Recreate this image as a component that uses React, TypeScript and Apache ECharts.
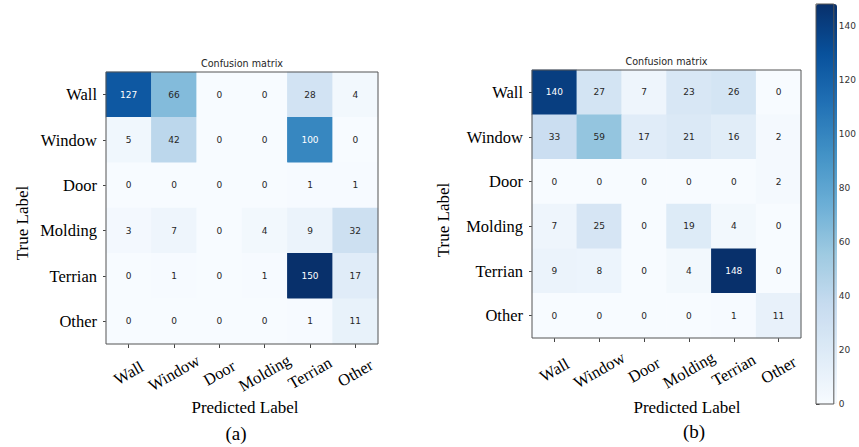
import React, { useEffect, useRef } from "react";
import * as echarts from "echarts";

const categories = ["Wall", "Window", "Door", "Molding", "Terrian", "Other"];

const matrixA = [
  [127, 66, 0, 0, 28, 4],
  [5, 42, 0, 0, 100, 0],
  [0, 0, 0, 0, 1, 1],
  [3, 7, 0, 4, 9, 32],
  [0, 1, 0, 1, 150, 17],
  [0, 0, 0, 0, 1, 11],
];

const matrixB = [
  [140, 27, 7, 23, 26, 0],
  [33, 59, 17, 21, 16, 2],
  [0, 0, 0, 0, 0, 2],
  [7, 25, 0, 19, 4, 0],
  [9, 8, 0, 4, 148, 0],
  [0, 0, 0, 0, 1, 11],
];

const colorbarMin = 0;
const colorbarMax = 148;
const colorbarStep = 20;

const blues = [
  "#f7fbff",
  "#deebf7",
  "#c6dbef",
  "#9ecae1",
  "#6baed6",
  "#4292c6",
  "#2171b5",
  "#08519c",
  "#08306b",
];

const SERIF = "Liberation Serif";
const SANS = "DejaVu Sans";

function buildData(m: number[][], max: number) {
  const out: any[] = [];
  m.forEach((row, i) =>
    row.forEach((v, j) => {
      out.push({
        value: [j, i, v],
        label: { color: v > max / 2 ? "#ffffff" : "#262626" },
      });
    })
  );
  return out;
}

function matrixMax(m: number[][]) {
  return Math.max(...m.map((r) => Math.max(...r)));
}

export default function App() {
  const ref = useRef<HTMLDivElement>(null);

  useEffect(() => {
    if (!ref.current) return;
    const chart = echarts.init(ref.current, undefined, { renderer: "svg" });
    const maxA = matrixMax(matrixA);
    const maxB = colorbarMax;

    const xAxisCommon = (margin: number) => ({
      type: "category",
      data: categories,
      axisLine: { show: false },
      axisTick: {
        show: true,
        alignWithLabel: true,
        length: 4,
        lineStyle: { color: "#444", width: 1 },
      },
      axisLabel: {
        rotate: 30,
        align: "center",
        verticalAlign: "middle",
        margin,
        fontFamily: SERIF,
        fontSize: 16.5,
        color: "#000",
        interval: 0,
      },
      splitLine: { show: false },
    });

    const yAxisCommon = () => ({
      type: "category",
      data: categories,
      inverse: true,
      axisLine: { show: false },
      axisTick: {
        show: true,
        alignWithLabel: true,
        length: 3,
        lineStyle: { color: "#444", width: 1 },
      },
      axisLabel: {
        margin: 9,
        fontFamily: SERIF,
        fontSize: 16.5,
        color: "#000",
        interval: 0,
      },
      splitLine: { show: false },
    });

    const heatLabel = {
      show: true,
      fontFamily: SANS,
      fontSize: 9,
      formatter: (p: any) => String(p.value[2]),
    };

    const titleText = (x: number, y: number) => ({
      type: "text",
      x,
      y,
      style: {
        text: "Confusion matrix",
        fill: "#262626",
        fontFamily: SANS,
        fontSize: 9.6,
        align: "center",
        verticalAlign: "middle",
      },
    });

    const serifText = (text: string, x: number, y: number, size: number, rotation = 0) => ({
      type: "text",
      x,
      y,
      rotation,
      style: {
        text,
        fill: "#000",
        fontFamily: SERIF,
        fontSize: size,
        align: "center",
        verticalAlign: "middle",
      },
    });

    const option: any = {
      animation: false,
      backgroundColor: "#ffffff",
      grid: [
        {
          left: 106,
          top: 72,
          width: 272,
          height: 272,
          show: true,
          borderColor: "#555",
          borderWidth: 1,
          backgroundColor: "transparent",
          z: 5,
        },
        {
          left: 532,
          top: 70,
          width: 269,
          height: 268,
          show: true,
          borderColor: "#555",
          borderWidth: 1,
          backgroundColor: "transparent",
          z: 5,
        },
        {
          left: 816,
          top: 4,
          width: 21,
          height: 400,
          show: true,
          borderColor: "#555",
          borderWidth: 1,
          backgroundColor: "transparent",
          z: 6,
        },
      ],
      xAxis: [
        { ...xAxisCommon(29), gridIndex: 0 },
        { ...xAxisCommon(32), gridIndex: 1 },
        {
          type: "value",
          gridIndex: 2,
          min: 0,
          max: 1,
          show: false,
        },
      ],
      yAxis: [
        { ...yAxisCommon(), gridIndex: 0 },
        { ...yAxisCommon(), gridIndex: 1 },
        {
          type: "value",
          gridIndex: 2,
          position: "right",
          min: colorbarMin,
          max: colorbarMax,
          interval: colorbarStep,
          axisLine: { show: false },
          axisTick: {
            show: true,
            length: 3.5,
            lineStyle: { color: "#444", width: 1 },
          },
          axisLabel: {
            margin: 5,
            fontFamily: SANS,
            fontSize: 9,
            color: "#333",
            showMaxLabel: false,
          },
          splitLine: { show: false },
        },
      ],
      visualMap: [
        {
          type: "continuous",
          seriesIndex: 0,
          min: 0,
          max: maxA,
          show: false,
          inRange: { color: blues },
        },
        {
          type: "continuous",
          seriesIndex: 1,
          min: colorbarMin,
          max: maxB,
          show: true,
          calculable: false,
          left: 816,
          top: 4,
          padding: 0,
          itemWidth: 21,
          itemHeight: 400,
          text: ["", ""],
          showLabel: false,
          hoverLink: false,
          inRange: { color: blues },
        },
      ],
      series: [
        {
          type: "heatmap",
          xAxisIndex: 0,
          yAxisIndex: 0,
          data: buildData(matrixA, maxA),
          label: heatLabel,
          itemStyle: { borderWidth: 0 },
          emphasis: { disabled: true },
        },
        {
          type: "heatmap",
          xAxisIndex: 1,
          yAxisIndex: 1,
          data: buildData(matrixB, maxB),
          label: heatLabel,
          itemStyle: { borderWidth: 0 },
          emphasis: { disabled: true },
        },
      ],
      graphic: [
        titleText(242, 63),
        titleText(666.5, 61),
        serifText("True Label", 22, 223, 17, Math.PI / 2),
        serifText("True Label", 443, 220, 17, Math.PI / 2),
        serifText("Predicted Label", 245, 407, 17),
        serifText("Predicted Label", 687, 407, 17),
        serifText("(a)", 236, 433, 19),
        serifText("(b)", 694, 431, 19),
      ],
    };

    chart.setOption(option);
    return () => chart.dispose();
  }, []);

  return (
    <div
      ref={ref}
      style={{ position: "fixed", left: 0, top: 0, width: 859, height: 447 }}
    />
  );
}
